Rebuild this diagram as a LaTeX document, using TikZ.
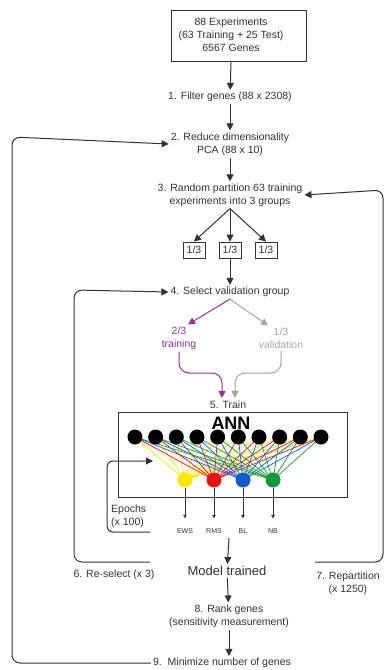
\documentclass[tikz,border=0pt]{standalone}
\usepackage{fontspec}
\setmainfont{Liberation Sans}
\usetikzlibrary{arrows.meta,positioning}
\definecolor{trainpurple}{RGB}{146,48,146}
\definecolor{validgray}{RGB}{165,165,165}
\definecolor{inkgray}{RGB}{50,50,50}
\definecolor{outyellow}{RGB}{250,232,0}
\definecolor{outred}{RGB}{230,20,20}
\definecolor{outblue}{RGB}{20,90,200}
\definecolor{outgreen}{RGB}{20,150,60}

\begin{document}
\begin{tikzpicture}[x=1pt, y=-1pt, every node/.style={font=\fontsize{10.5}{13}\selectfont, align=center, text=inkgray, inner sep=2pt},
    flow/.style={-{Triangle[length=7pt,width=7pt]}, line width=1pt, draw=inkgray},
    loop/.style={flow, rounded corners=8pt},
    groupbox/.style={draw=inkgray, line width=0.9pt, minimum width=22pt, minimum height=16pt, inner sep=1pt}]
    \useasboundingbox (0,0) rectangle (386,670);

    \node[draw=inkgray, line width=1pt, minimum width=135pt, minimum height=51pt] (databox) at (238.5,35.5) {};
    \node (data) at (231,35) {88 Experiments\\(63 Training + 25 Test)\\6567 Genes};
    \node (filter) at (230,97) {1. Filter genes (88 x 2308)};
    \node (reduce) at (230,144) {2. Reduce dimensionality\\PCA (88 x 10)};
    \node (partition) at (230,195) {3. Random partition 63 training\\experiments into 3 groups};
    \node[groupbox] (g1) at (194,250) {1/3};
    \node[groupbox] (g2) at (230,250) {1/3};
    \node[groupbox] (g3) at (266,250) {1/3};
    \node (select) at (230,292) {4. Select validation group};
    \node[text=trainpurple] (training) at (179,338) {2/3\\training};
    \node[text=validgray] (validation) at (281,338) {1/3\\validation};
    \node (train) at (228,405) {5. Train};

    % ANN block
    \node[draw=inkgray, line width=1pt, minimum width=229pt, minimum height=85pt] (ann) at (232.5,454.5) {};
    \node[font=\bfseries\fontsize{18}{18}\selectfont, text=black] (anntitle) at (231,423) {ANN};
    \foreach \i in {1,...,10}
        \coordinate (in\i) at ({114.3+20.67*\i},437);
    \foreach \name/\x/\col in {ews/185/outyellow, rms/214/outred, bl/243/outblue, nb/273/outgreen} {
        \coordinate (o\name) at (\x,480);
        \foreach \i in {1,...,10}
            \draw[\col, line width=0.7pt] (in\i) -- (o\name);
    }
    \foreach \name/\x/\col in {ews/185/outyellow, rms/214/outred, bl/243/outblue, nb/273/outgreen} {
        \node[circle, fill=\col, inner sep=0pt, minimum size=15pt] (out\name) at (o\name) {};
        \node[font=\fontsize{7}{8}\selectfont] (lab\name) at (\x,531) {\MakeUppercase{\name}};
        \draw[-{Triangle[length=3.5pt,width=3.5pt]}, line width=0.6pt, draw=inkgray, shorten >=8pt] (out\name) -- (lab\name);
    }
    \foreach \i in {1,...,10}
        \node[circle, fill=black, inner sep=0pt, minimum size=15pt] (inode\i) at (in\i) {};

    \node[anchor=west, align=left] (epochs) at (109,516) {Epochs\\(x 100)};
    \coordinate (epochend) at (150,532);
    \coordinate (epochtip) at (153,461);
    \draw[loop, rounded corners=6pt] (epochend) -| (107,461) -- (epochtip);

    \coordinate (labrow) at (229,538);
    \node[font=\fontsize{13}{15}\selectfont] (model) at (227,571) {Model trained};
    \node (rank) at (229,616) {8. Rank genes\\(sensitivity measurement)};
    \node (minimize) at (222,663) {9.\ \ Minimize number of genes};

    \node (reselect) at (114,575) {6. Re-select (x 3)};
    \node (repartition) at (348,583) {7. Repartition\\(x 1250)};

    % main flow
    \draw[flow] (data |- databox.south) -- (filter);
    \draw[flow] (filter) -- (reduce);
    \draw[flow] (reduce) -- (partition);
    \draw[flow] (partition.south) -- (g1.north);
    \draw[flow] (partition.south) -- (g2.north);
    \draw[flow] (partition.south) -- (g3.north);
    \draw[flow] (g2) -- (select);
    \draw[flow, draw=trainpurple] (select.south) -- ([xshift=9pt]training.north);
    \draw[flow, draw=validgray] (select.south) -- ([xshift=-13pt]validation.north);
    \draw[flow, draw=trainpurple, rounded corners=10pt] (training.south) |- (222,373) -- ([xshift=-6pt,yshift=1pt]train.north);
    \draw[flow, draw=validgray, rounded corners=10pt] (validation.south) |- (235,373) -- ([xshift=7pt,yshift=1pt]train.north);
    \draw[flow] (labrow) -- (model);
    \draw[flow] (model) -- (rank);
    \draw[flow] (rank) -- (rank |- minimize.north);

    % loops
    \coordinate (reselectend) at (150,562);
    \coordinate (repartend) at (315,562);
    \draw[loop] (reselectend) -| (74,290) -- (select.west);
    \draw[loop] (repartend) -| (383,190) -- (partition.east);
    \draw[loop] (minimize.west) -| (12,137) -- (reduce.west);
\end{tikzpicture}
\end{document}
